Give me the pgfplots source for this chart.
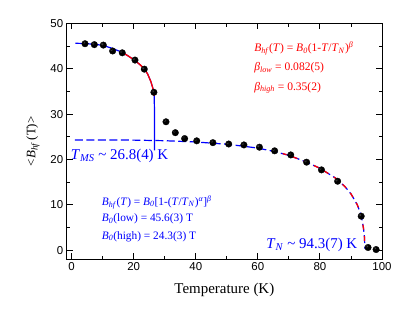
\documentclass[border=0pt]{standalone}
\usepackage{fontspec}
\setmainfont{Liberation Serif}
\newfontfamily\sansf{Liberation Sans}
\usepackage{pgfplots}
\pgfplotsset{compat=1.18}
\definecolor{myblue}{RGB}{0,0,255}
\definecolor{myred}{RGB}{255,0,0}
\newcommand{\ti}[1]{\textit{#1}}
\pgfplotstableread{
T B
4.3 45.5
7.3 45.3
10.2 45.2
13.2 43.9
16.3 43.5
20.4 41.9
23.4 39.9
26.5 34.8
30.4 28.3
33.4 25.9
36.4 24.6
40.3 24.1
45.5 23.7
50.6 23.4
55.5 23.2
60.5 22.7
65.4 21.9
70.6 21.0
75.7 19.4
80.5 17.7
85.7 15.2
93.3 7.5
95.5 0.6
98.1 0.15
}\datatable
\begin{document}
\begin{tikzpicture}
\useasboundingbox (-66.7bp,-56.7bp) rectangle (348.3bp,259.3bp);
\begin{axis}[
  at={(0,0)}, anchor=south west,
  scale only axis, width=315.3bp, height=236bp,
  xmin=-1.6, xmax=100, ymin=-2, ymax=50,
  xtick={0,20,40,60,80,100}, ytick={0,10,20,30,40,50},
  minor x tick num=1, minor y tick num=1,
  tick align=inside,
  major tick length=6bp, minor tick length=3.5bp,
  axis line style={line width=1bp},
  every tick/.style={line width=0.9bp, black},
  /pgf/number format/assume math mode=true,
  ticklabel style={font=\sansf\fontsize{11.5}{12}\selectfont},
  xlabel={Temperature (K)},
  xlabel style={at={(axis description cs:0.5,-0.13)}, anchor=center, font=\fontsize{15}{18}\selectfont},
  ylabel={<\ti{B}\textsubscript{\ti{hf}}\,(T)>},
  ylabel style={at={(axis description cs:-0.107,0.5)}, anchor=center, font=\fontsize{13}{15}\selectfont},
  clip=false,
]
% data balls
\addplot[only marks, mark=*, mark size=3.3bp, mark options={fill=black, draw=black, line width=0.3bp}] table[x=T, y=B] {\datatable};
\addplot[only marks, mark=*, mark size=1.3bp, mark options={fill=black!45, draw=none, xshift=-1.1bp, yshift=1.1bp}] table[x=T, y=B] {\datatable};
\addplot[only marks, mark=*, mark size=0.6bp, mark options={fill=black!20, draw=none, xshift=-1.3bp, yshift=1.3bp}] table[x=T, y=B] {\datatable};
% blue solid low-T fit
\addplot[myblue, line width=1.2bp, no marks] coordinates {
 (1.2,45.6) (4,45.55) (7,45.4) (10,45.15) (13,44.5) (16.3,43.6) (18,42.9)
 (20,42.0) (22,40.9) (23.5,39.9) (24.5,38.8) (25.5,37.2) (26.2,35.6)
 (26.6,34.0) (26.7,30) (26.7,22)
};
% blue dashed high-T fit
\addplot[myblue, line width=1.2bp, no marks, dash pattern=on 8bp off 3.5bp] coordinates {
 (1,24.3) (10,24.3) (20,24.26) (30,24.13) (40,23.85) (50,23.35) (55,22.95)
 (60,22.5) (65,21.8) (70,20.9) (75,19.6) (80,18.06) (85,15.9) (88,14.06)
 (90,12.42) (92,10.07) (93,8.28) (93.5,7.0) (94,4.98) (94.3,3.4) (94.5,0.3)
};
% red solid critical fit low
\addplot[myred, line width=1.3bp, no marks] coordinates {
 (16.3,43.6) (18,42.9) (20,42.0) (22,40.9) (23.5,39.9) (24.5,38.8)
 (25.5,37.2) (26.2,35.6) (26.6,34.0)
};
% red dashed critical fit high
\addplot[myred, line width=1.3bp, no marks, dash pattern=on 5bp off 6.5bp, dash phase=1bp] coordinates {
 (68,21.3) (70,20.9) (75,19.6) (80,18.06) (85,15.9) (88,14.06)
 (90,12.42) (92,10.07) (93,8.28) (93.5,7.0) (94,4.98) (94.3,3.4) (94.4,1.5)
};
% annotations
\node[anchor=base west, text=myred, font=\fontsize{11.6}{14}\selectfont, inner sep=0pt] at (axis cs:58.8,43.8)
 {\ti{B}\textsubscript{\ti{hf}}(\ti{T}) = \ti{B}\textsubscript{\ti{0}}(1-\ti{T}/\ti{T}\textsubscript{\ti{N}})\textsuperscript{\ti{β}}};
\node[anchor=base west, text=myred, font=\fontsize{11.6}{14}\selectfont, inner sep=0pt] at (axis cs:58.8,39.6)
 {\ti{β}\textsubscript{\ti{low}} = 0.082(5)};
\node[anchor=base west, text=myred, font=\fontsize{11.6}{14}\selectfont, inner sep=0pt] at (axis cs:58.8,35.3)
 {\ti{β}\textsubscript{\ti{high}} = 0.35(2)};
\node[anchor=base west, text=myblue, font=\fontsize{11.4}{14}\selectfont, inner sep=0pt] at (axis cs:9.7,9.9)
 {\ti{B}\textsubscript{\ti{hf}}(\ti{T}) = \ti{B}\textsubscript{\ti{0}}[1-(\ti{T}/\ti{T}\textsubscript{\ti{N}})\textsuperscript{\ti{α}}]\textsuperscript{\ti{β}}};
\node[anchor=base west, text=myblue, font=\fontsize{11.4}{14}\selectfont, inner sep=0pt] at (axis cs:9.7,6.3)
 {\ti{B}\textsubscript{\ti{0}}(low) = 45.6(3) T};
\node[anchor=base west, text=myblue, font=\fontsize{11.4}{14}\selectfont, inner sep=0pt] at (axis cs:9.7,2.4)
 {\ti{B}\textsubscript{\ti{0}}(high) = 24.3(3) T};
\node[anchor=base west, text=myblue, font=\fontsize{15}{18}\selectfont, inner sep=0pt] at (axis cs:-0.3,20.0)
 {\ti{T}\textsubscript{\ti{MS}} \char"7E{} 26.8(4) K};
\node[anchor=base west, text=myblue, font=\fontsize{15}{18}\selectfont, inner sep=0pt] at (axis cs:62.7,0.4)
 {\ti{T}\textsubscript{\ti{N}} \char"7E{} 94.3(7) K};
\end{axis}
\end{tikzpicture}
\end{document}
